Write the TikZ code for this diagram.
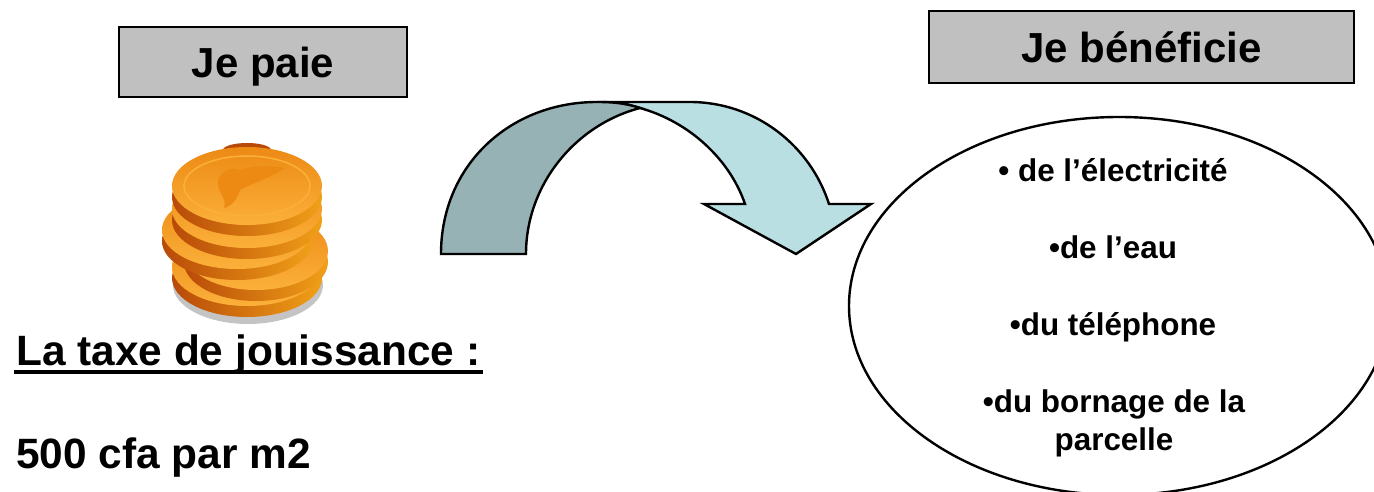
\documentclass[tikz,border=0pt]{standalone}
\usepackage{fontspec}
\setmainfont{Liberation Sans}
\usetikzlibrary{calc,shapes.geometric}
\definecolor{boxgray}{HTML}{C0C0C0}
\definecolor{arrowdark}{HTML}{97B2B5}
\definecolor{arrowlight}{HTML}{B9DFE3}
\definecolor{coinshadow}{HTML}{C4C4C4}
\definecolor{coinedge}{HTML}{B84A08}
\definecolor{coinrim}{HTML}{F0A018}
\definecolor{coindark}{HTML}{EC8A14}
\definecolor{coinface}{HTML}{FBB03A}
\begin{document}
\begin{tikzpicture}[x=1pt, y=-1pt,
    titlebox/.style = {draw, line width=2.4pt, fill=boxgray, inner sep=0pt, text depth=0pt,
      font=\fontsize{42}{48}\selectfont\bfseries},
    bigtext/.style = {font=\fontsize{42.4}{48}\selectfont\bfseries, anchor=base west, inner sep=0pt},
    itemtext/.style = {font=\fontsize{31.4}{38}\selectfont\bfseries, align=center, anchor=base, inner sep=0pt}]
  \useasboundingbox (0,0) rectangle (1374,492);
  \clip (0,0) rectangle (1374,492);

  % titles
  \node [titlebox, minimum width=288pt, minimum height=70pt] (paie) at (263,62) {Je paie};
  \node [titlebox, minimum width=425pt, minimum height=72pt] (benefice) at (1141.5,47) {Je bénéficie};

  % coins
  \fill [coinshadow] (248,285) ellipse (75 and 39);
  \fill [coinedge] (247,150) ellipse (24 and 7);
  \foreach \cx/\cy/\rx in {247/267/75, 256/251/72, 237/230/75, 247/209/75, 247/186/75}
           {
             \shade [left color=coinedge, right color=coinrim] (\cx,\cy+11) ellipse [x radius=\rx, y radius=39];
             \shade [top color=coindark, bottom color=coinface] (\cx,\cy) ellipse [x radius=\rx, y radius=39];
           }
  \draw [coinface, line width=1.5pt] (247,186) ellipse (63 and 30);
  \fill [coindark] (218,180) .. controls (222,170) and (232,166) .. (240,170)
    .. controls (255,165) and (270,165) .. (285,168) .. controls (270,178) and (255,182) .. (240,190)
    .. controls (238,198) and (232,206) .. (224,208) .. controls (228,198) and (216,192) .. (218,180) -- cycle;

  % left text
  \node [bigtext] (taxe) at (16,365) {La taxe de jouissance :};
  \draw [line width=4pt] ($(taxe.base west)+(-2,7)$) -- ($(taxe.base east)+(2,7)$);
  \node [bigtext] (prix) at (16,468) {500 cfa par m2};

  % arrow
  \draw [line width=2.4pt, line join=miter, fill=arrowlight]
    (597,102) -- (690,102) .. controls (755,102) and (810,145) .. (829,204)
    -- (871,204) -- (796,254) -- (704,204) -- (745,204)
    .. controls (730,160) and (690,122) .. (640,108)
    .. controls (625,103) and (612,102) .. (597,102) -- cycle;
  \draw [line width=2.4pt, line join=miter, fill=arrowdark]
    (441,254) .. controls (441,165) and (510,102) .. (597,102)
    .. controls (612,102) and (625,103) .. (640,108)
    .. controls (575,125) and (526,185) .. (526,254) -- cycle;

  % ellipse and items
  \node [ellipse, draw, line width=2.4pt, minimum width=540pt, minimum height=378pt, inner sep=0pt] (offres) at (1119,306) {};
  \node [itemtext] (elec) at (1113,182) {• de l’électricité};
  \node [itemtext] (eau) at (1113,258) {•de l’eau};
  \node [itemtext] (tel) at (1113,335) {•du téléphone};
  \node [itemtext] (borne) at (1114,450) {•du bornage de la\\parcelle};
\end{tikzpicture}
\end{document}
